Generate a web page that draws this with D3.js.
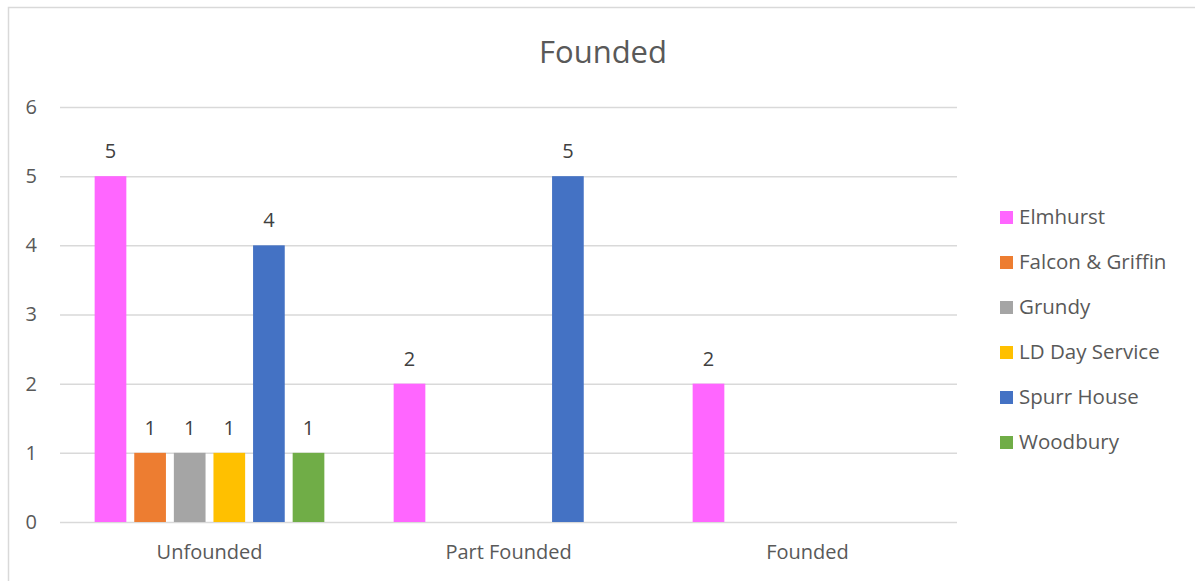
<!DOCTYPE html>
<html><head><meta charset="utf-8">
<script src="https://cdn.jsdelivr.net/npm/d3@7"></script>
<style>body{margin:0;background:#fff;}svg{display:block;font-family:"Open Sans",sans-serif;}</style>
</head><body>
<svg id="c" width="1195" height="581"></svg>
<script>
const categories = ["Unfounded", "Part Founded", "Founded"];
const seriesNames = ["Elmhurst", "Falcon & Griffin", "Grundy", "LD Day Service", "Spurr House", "Woodbury"];
const seriesColors = ["#FF66FF", "#ED7D31", "#A5A5A5", "#FFC000", "#4472C4", "#70AD47"];
const Elmhurst = [5, 2, 2];
const FalconGriffin = [1, null, null];
const Grundy = [1, null, null];
const LDDayService = [1, null, null];
const SpurrHouse = [4, 5, null];
const Woodbury = [1, null, null];
const yTicks = [0, 1, 2, 3, 4, 5, 6];
const seriesValues = [Elmhurst, FalconGriffin, Grundy, LDDayService, SpurrHouse, Woodbury];

const svg = d3.select("#c");
const txt = "#595959";
svg.append("rect").attr("x", 8.5).attr("y", 7.5).attr("width", 1200).attr("height", 600)
  .attr("fill", "#fff").attr("stroke", "#D9D9D9").attr("stroke-width", 1.5);

const L = 60, R = 957, T = 107, B = 522;
const x0 = d3.scaleBand().domain(categories).range([L, R]).padding(0);
const x1 = d3.scaleBand().domain(seriesNames).range([0, x0.bandwidth()]).paddingInner(0.2).paddingOuter(0.875);
const y = d3.scaleLinear().domain([0, 6]).range([B, T]);

svg.append("text").attr("x", 603).attr("y", 63).attr("text-anchor", "middle")
  .attr("fill", txt).attr("font-size", 31).text("Founded");

const yAxis = d3.axisLeft(y).tickValues(yTicks).tickSize(-(R - L)).tickFormat(d3.format("d"));
const ga = svg.append("g").attr("transform", `translate(${L},0)`).call(yAxis);
ga.select(".domain").remove();
ga.selectAll(".tick line").attr("stroke", "#D9D9D9").attr("stroke-width", 1.5);
ga.selectAll(".tick text").attr("x", -23).attr("fill", txt).attr("font-size", 20).attr("font-family", "Open Sans");

const xAxis = d3.axisBottom(x0).tickSize(0).tickPadding(23);
const gx = svg.append("g").attr("transform", `translate(0,${B})`).call(xAxis);
gx.select(".domain").remove();
gx.selectAll(".tick text").attr("fill", txt).attr("font-size", 20).attr("font-family", "Open Sans");

const groups = svg.append("g").selectAll("g").data(categories).join("g")
  .attr("transform", d => `translate(${x0(d)},0)`);
groups.each(function(cat, ci) {
  const g = d3.select(this);
  seriesNames.forEach((s, si) => {
    const v = seriesValues[si][ci];
    if (v == null) return;
    g.append("rect").attr("x", x1(s)).attr("y", y(v)).attr("width", x1.bandwidth())
      .attr("height", y(0) - y(v)).attr("fill", seriesColors[si]);
    g.append("text").attr("x", x1(s) + x1.bandwidth() / 2).attr("y", y(v) - 18)
      .attr("text-anchor", "middle").attr("fill", "#404040").attr("font-size", 20).text(v);
  });
});

const leg = svg.append("g").selectAll("g").data(seriesNames).join("g")
  .attr("transform", (d, i) => `translate(1000,${217 + i * 45})`);
leg.append("rect").attr("x", 0).attr("y", -6).attr("width", 13).attr("height", 13)
  .attr("fill", (d, i) => seriesColors[i]);
leg.append("text").attr("x", 19).attr("y", 0).attr("dy", "0.35em").attr("fill", txt)
  .attr("font-size", 20.5).text(d => d);
</script>
</body></html>
